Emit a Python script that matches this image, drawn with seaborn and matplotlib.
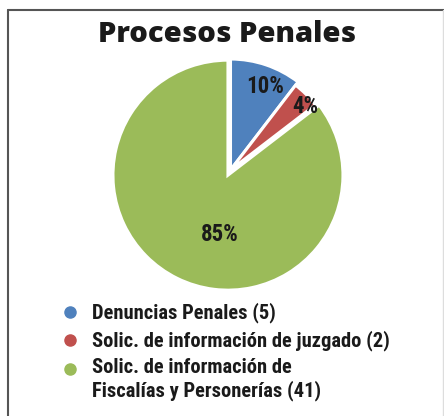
import matplotlib
matplotlib.use("Agg")
import matplotlib.pyplot as plt
import seaborn as sns
from matplotlib.lines import Line2D
from matplotlib import font_manager as fm
import numpy as np

categories = ["Denuncias Penales (5)",
              "Solic. de información de juzgado (2)",
              "Solic. de información de\nFiscalías y Personerías (41)"]
values = [5, 2, 41]
title = "Procesos Penales"
colors = ["#4F81BD", "#C0504D", "#9BBB59"]

sns.set_theme(style="white")
plt.rcParams['font.family'] = ['DejaVu Sans']


def find_condensed_bold():
    prefs = ["roboto condensed", "liberation sans narrow", "open sans condensed",
             "noto sans", "dejavu sans", "arial narrow"]
    cands = []
    for f in fm.fontManager.ttflist:
        fn = f.fname.lower()
        nm = f.name.lower()
        st = str(f.stretch).lower()
        is_cond = ("condensed" in fn or "narrow" in fn or "condensed" in nm or "narrow" in nm
                   or st in ("condensed", "semi-condensed", "extra-condensed", "narrow"))
        if not is_cond:
            continue
        if "italic" in fn or "oblique" in fn:
            continue
        w = f.weight if isinstance(f.weight, int) else fm.weight_dict.get(str(f.weight), 400)
        if w < 600 or w > 800:
            continue
        if "extracondensed" in fn.replace("-", "") or "semicondensed" in fn.replace("-", ""):
            rank_extra = 1
        else:
            rank_extra = 0
        rank = next((i for i, p in enumerate(prefs) if p in nm), len(prefs))
        cands.append((rank, rank_extra, f.fname))
    if cands:
        cands.sort()
        return fm.FontProperties(fname=cands[0][2])
    return fm.FontProperties(family=['Roboto', 'DejaVu Sans'], weight='bold')


cfont = find_condensed_bold()

W, H = 444, 416
fig = plt.figure(figsize=(W / 100, H / 100), dpi=100)
fig.patch.set_facecolor("white")

# pie axes
R = 115
cx, cy = 230.5, 170
lim = 1.3
size = 2 * lim * R
ax = fig.add_axes([(cx - size / 2) / W, (H - cy - size / 2) / H, size / W, size / H])
wedges, texts, autotexts = ax.pie(values, colors=colors, explode=[0.0, 0.0, 0.05],
                                  startangle=90, counterclock=False, autopct='%.0f%%',
                                  pctdistance=0.8,
                                  wedgeprops=dict(linewidth=2.2, edgecolor='white'))
for wdg, rr in zip(wedges, [0.965, 0.93, 1.0]):
    wdg.set_radius(rr)
ax.set_xlim(-lim, lim)
ax.set_ylim(-lim, lim)
ax.set_aspect('equal')
ax.axis('off')
label_pos = [(0.30, 0.725), (0.648, 0.55), (-0.091, -0.565)]
for t, p in zip(autotexts, label_pos):
    t.set_position(p)
    t.set_fontproperties(cfont)
    t.set_fontsize(16.5)
    t.set_color('#1a1a1a')

fig.text(227 / W, 1 - 42 / H, title, ha='center', va='baseline', fontsize=21,
         fontweight='heavy', family=['Open Sans', 'Lato', 'DejaVu Sans'], color='#1a1a1a')

handles = [Line2D([], [], marker='o', linestyle='none', markersize=8,
                  markerfacecolor=c, markeredgecolor=c) for c in colors]
fs = 15
leg = fig.legend(handles, categories, loc='upper left', bbox_to_anchor=(61.5 / W, 1 - 302 / H),
                 frameon=False, prop=cfont, handletextpad=0.85,
                 labelspacing=0.45, handlelength=1.0, borderaxespad=0, borderpad=0)
for t in leg.get_texts():
    t.set_color('#1a1a1a')
    t.set_fontsize(fs)

# fit legend width: longest single-line label spans x=93..392 px
fig.canvas.draw()
r = fig.canvas.get_renderer()
wlong = leg.get_texts()[1].get_window_extent(r).width
fs = fs * 299.0 / wlong
for t in leg.get_texts():
    t.set_fontsize(fs)
fig.canvas.draw()
# align multi-line item's marker with its first line
gh = leg.legend_handles[2]
gh.set_ydata(np.asarray(gh.get_ydata(), dtype=float) + 0.6 * fs)

# frame lines
fig.add_artist(Line2D([8 / W, 8 / W], [0, 1 - 10 / H], color='#555555', lw=1.5))
fig.add_artist(Line2D([8 / W, 1], [1 - 10 / H, 1 - 10 / H], color='#555555', lw=1.5))
fig.add_artist(Line2D([443 / W, 443 / W], [0, 1 - 10 / H], color='#dddddd', lw=1))

fig.savefig("out.png", dpi=100)
